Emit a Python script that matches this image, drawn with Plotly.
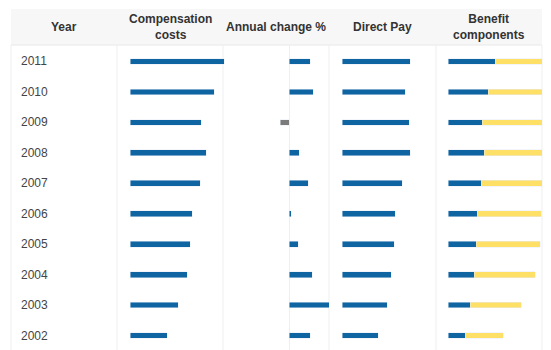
import plotly.graph_objects as go

# ---- data (2002 .. 2011) ----
years = ["2002", "2003", "2004", "2005", "2006", "2007", "2008", "2009", "2010", "2011"]
compensation_costs = [37, 48, 57, 60, 62, 70, 76, 71, 84, 94]
annual_change_pct = [5.25, 10.0, 5.75, 2.25, 0.5, 4.75, 2.5, -2.25, 6.0, 5.25]
direct_pay = [36, 45, 49, 52, 53, 60, 68, 67, 63, 68]
benefit_a = [17, 22, 26, 28, 29, 33, 36, 34, 40, 47]
benefit_b = [38, 51, 61, 64, 64, 68, 66, 67, 62, 58]
headers = ["Year", "Compensation<br>costs", "Annual change %", "Direct Pay", "Benefit<br>components"]

W, H = 551, 350
BLUE = "#0f64a2"
YELLOW = "#ffe066"
GRAY = "#7b7b7b"
BW = 0.19


def px(x):
    return x / W


def py(y):
    return 1 - y / H


fig = go.Figure()
fig.add_trace(go.Bar(x=compensation_costs, y=years, orientation="h", xaxis="x", yaxis="y",
                     marker=dict(color=BLUE), width=BW))
fig.add_trace(go.Bar(x=annual_change_pct, y=years, orientation="h", xaxis="x2", yaxis="y",
                     marker=dict(color=[BLUE if v >= 0 else GRAY for v in annual_change_pct]), width=BW))
fig.add_trace(go.Bar(x=direct_pay, y=years, orientation="h", xaxis="x3", yaxis="y",
                     marker=dict(color=BLUE), width=BW))
fig.add_trace(go.Bar(x=benefit_a, y=years, orientation="h", xaxis="x4", yaxis="y",
                     marker=dict(color=BLUE), width=BW))
fig.add_trace(go.Bar(x=benefit_b, y=years, orientation="h", xaxis="x4", yaxis="y",
                     marker=dict(color=YELLOW), width=BW))

hid = dict(showgrid=False, zeroline=False, showticklabels=False, ticks="", showline=False, fixedrange=True)

# row pitch: 2011 at y=61px, 2002 at y=335px
pitch = (335 - 61) / 9
ytop = 9 + (61.5 - 45) / pitch
ybot = -(350 - 335.5) / pitch

fig.update_layout(
    width=W, height=H,
    margin=dict(l=0, r=0, t=0, b=0),
    paper_bgcolor="white", plot_bgcolor="rgba(0,0,0,0)",
    showlegend=False, barmode="stack", hovermode=False,
    xaxis=dict(domain=[px(130), px(226)], range=[0, 96], anchor="y", **hid),
    xaxis2=dict(domain=[px(223), px(329)], range=[-16.5, 10], anchor="y",
                showgrid=False, zeroline=True, zerolinecolor="#efefef", zerolinewidth=1,
                showticklabels=False, ticks="", showline=False, fixedrange=True),
    xaxis3=dict(domain=[px(342), px(436)], range=[0, 94], anchor="y", **hid),
    xaxis4=dict(domain=[px(448), px(542)], range=[0, 94], anchor="y", **hid),
    yaxis=dict(domain=[0, py(45)], type="category", categoryorder="array", categoryarray=years,
               range=[ybot, ytop], **hid),
    font=dict(family="Liberation Sans, Arial, sans-serif", color="#333"),
)

shapes = [
    dict(type="rect", xref="paper", yref="paper", x0=px(11), x1=px(542), y0=py(45), y1=py(9),
         fillcolor="#f7f7f7", line=dict(width=0), layer="below"),
    dict(type="line", xref="paper", yref="paper", x0=px(11), x1=px(542), y0=py(45), y1=py(45),
         line=dict(color="#e8e8e8", width=1), layer="below"),
]
for xv in [11, 117, 223, 329, 436, 542]:
    shapes.append(dict(type="line", xref="paper", yref="paper", x0=px(xv), x1=px(xv), y0=0, y1=py(45),
                       line=dict(color="#efefef", width=1), layer="below"))
fig.update_layout(shapes=shapes)

annotations = []
centers = [64, 170, 276, 382, 489]
for h, cx in zip(headers, centers):
    annotations.append(dict(text="<b>" + h + "</b>", x=px(cx), y=py(27.5), xref="paper", yref="paper",
                            xanchor="center", yanchor="middle", showarrow=False,
                            font=dict(size=12, color="#333")))
for i, yv in enumerate(years):
    # category axis: position by category index
    annotations.append(dict(text=yv, x=px(19), y=i, xref="paper", yref="y", xanchor="left",
                            yanchor="middle", showarrow=False, font=dict(size=12, color="#444")))
fig.update_layout(annotations=annotations)

fig.write_html("out.html", config={"displayModeBar": False})
